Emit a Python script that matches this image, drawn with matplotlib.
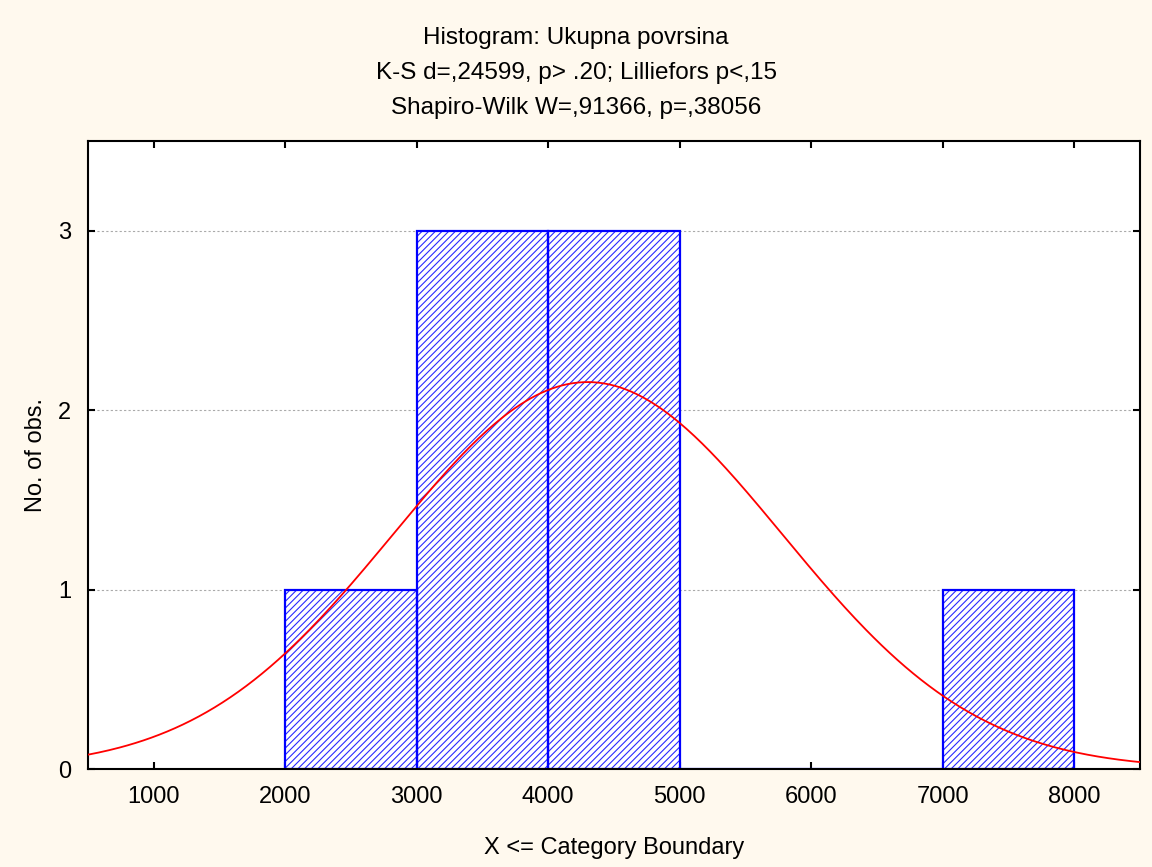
import numpy as np
import matplotlib.pyplot as plt

# histogram data
bin_edges = [2000, 3000, 4000, 5000, 6000, 7000, 8000]
counts = [1, 3, 3, 0, 0, 1]

# fitted normal curve parameters
fit_mean = 4300
fit_sd = 1480

title_lines = [
    "Histogram: Ukupna povrsina",
    "K-S d=,24599, p> .20; Lilliefors p<,15",
    "Shapiro-Wilk W=,91366, p=,38056",
]
x_ticks = [1000, 2000, 3000, 4000, 5000, 6000, 7000, 8000]
y_ticks = [0, 1, 2, 3]

plt.rcParams['font.family'] = ['Liberation Sans', 'DejaVu Sans']
plt.rcParams['hatch.linewidth'] = 0.8

fig = plt.figure(figsize=(11.52, 8.67), dpi=100, facecolor='#fff9ee')
ax = fig.add_axes([88 / 1152, 1 - 769 / 867, (1140 - 88) / 1152, (769 - 141) / 867])

widths = np.diff(bin_edges)
lefts = np.array(bin_edges[:-1])
ax.bar(lefts, counts, width=widths, align='edge', facecolor='white',
       edgecolor='none', linewidth=0, zorder=2)
# dense blue hatch, then the outline on top
ax.bar(lefts, counts, width=widths, align='edge', facecolor='none',
       edgecolor='#2a2aff', linewidth=0, hatch='/////', zorder=2)
ax.bar(lefts, counts, width=widths, align='edge', facecolor='none',
       edgecolor='#0000ff', linewidth=1.6, zorder=2)

n_obs = sum(counts)
bw = widths[0]
xs = np.linspace(500, 8500, 400)
ys = n_obs * bw / (fit_sd * np.sqrt(2 * np.pi)) * np.exp(-0.5 * ((xs - fit_mean) / fit_sd) ** 2)
ax.plot(xs, ys, color='#ff0000', linewidth=1.3, zorder=3)

ax.set_xlim(500, 8500)
ax.set_ylim(0, 3.5)
ax.set_xticks(x_ticks)
ax.set_yticks(y_ticks)
for y in y_ticks[1:]:
    ax.axhline(y, color='#aaaaaa', linestyle=(0, (2, 2)), linewidth=0.8, zorder=1)

ax.tick_params(direction='in', top=True, right=True, length=5, width=1.5,
               labelsize=17, pad=12)
for s in ax.spines.values():
    s.set_linewidth(1.5)
    s.set_color('black')

ax.set_xlabel("X <= Category Boundary", fontsize=17, labelpad=21)
ax.set_ylabel("No. of obs.", fontsize=17, labelpad=8)

for i, line in enumerate(title_lines):
    fig.text(0.5, 1 - (38 + 35 * i) / 867, line, ha='center', va='center', fontsize=17.5)

fig.savefig('out.png', dpi=100, facecolor=fig.get_facecolor())
